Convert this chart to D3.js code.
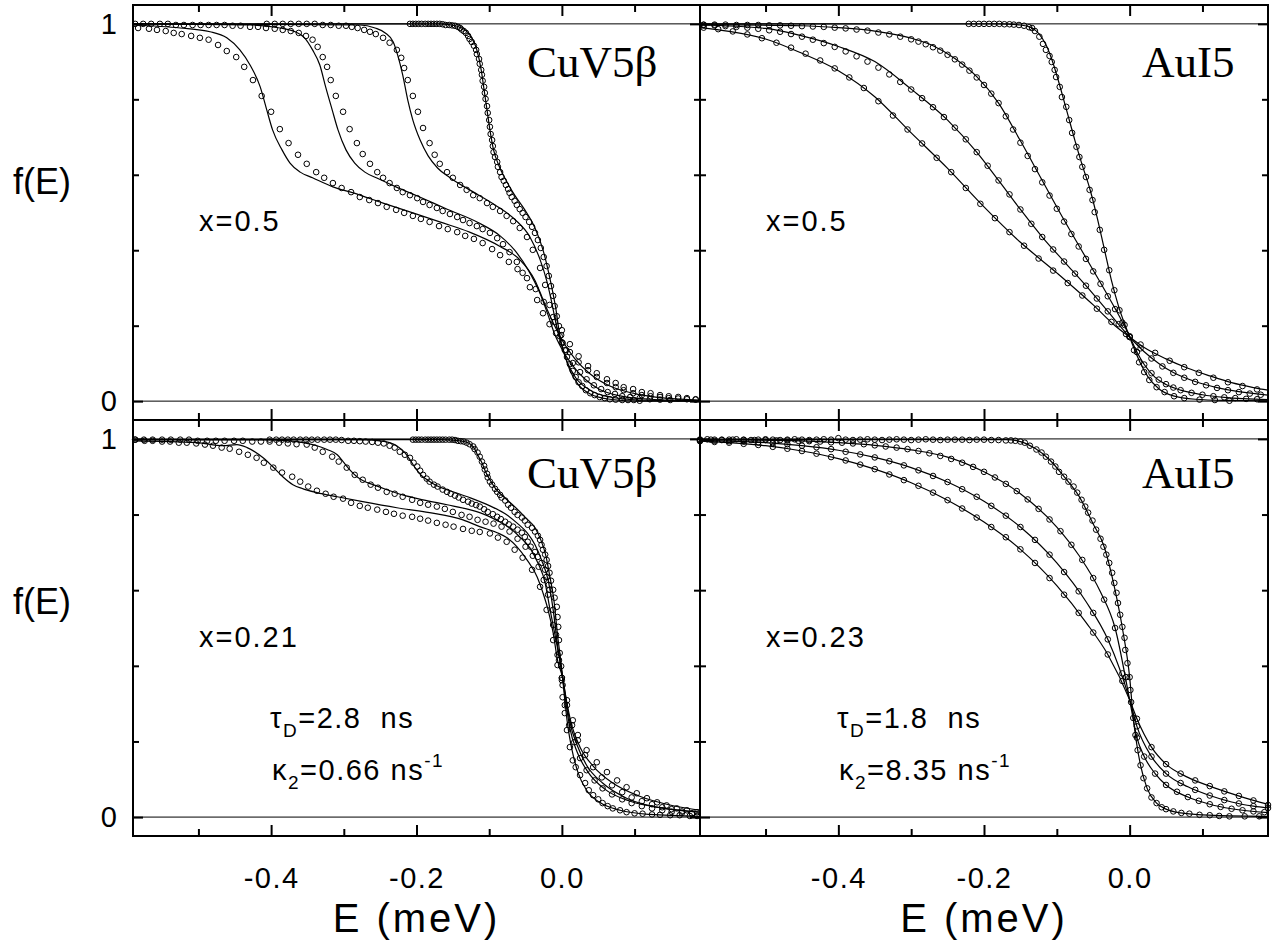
<!DOCTYPE html>
<html><head><meta charset="utf-8">
<script src="https://cdn.jsdelivr.net/npm/d3@7"></script>
<style>body{margin:0;background:#fff}svg{display:block}</style>
</head><body>
<svg id="c" width="1282" height="948"></svg>
<script>
// ---------------- axes / labels ----------------
const xDomain = [-0.59, 0.19];
const yDomain = [-0.05, 1.05];
const xMajor = [-0.4, -0.2, 0.0];
const xMinor = [-0.5, -0.3, -0.1, 0.1];
const xTickLabels = ["-0.4", "-0.2", "0.0"];
const yMajor = [0, 1];
const yMinor = [0.2, 0.4, 0.6, 0.8];
const yTickLabels = ["0", "1"];
const panelNames = ["CuV5\u03b2", "AuI5", "CuV5\u03b2", "AuI5"];
const panelX = ["x=0.5", "x=0.5", "x=0.21", "x=0.23"];
const tauD = ["2.8", "1.8"];
const kappa2 = ["0.66", "8.35"];
const xTitle = "E (meV)";
const yTitle = "f(E)";

// ---------------- top-left: CuV5b x=0.5 ----------------
const tlPtsA = [[-0.583,0.989],[-0.568,0.987],[-0.557,0.984],[-0.545,0.981],[-0.534,0.976],[-0.523,0.973],[-0.510,0.968],[-0.498,0.963],[-0.486,0.958],[-0.473,0.944],[-0.461,0.928],[-0.448,0.912],[-0.437,0.886],[-0.425,0.851],[-0.413,0.809],[-0.400,0.767],[-0.388,0.721],[-0.376,0.684],[-0.363,0.653],[-0.351,0.629],[-0.338,0.607],[-0.327,0.592],[-0.315,0.578],[-0.303,0.565],[-0.290,0.554],[-0.278,0.541],[-0.265,0.533],[-0.253,0.525],[-0.241,0.515],[-0.228,0.507],[-0.217,0.499],[-0.205,0.491],[-0.194,0.483],[-0.182,0.475],[-0.169,0.464],[-0.157,0.456],[-0.144,0.448],[-0.133,0.438],[-0.121,0.430],[-0.109,0.419],[-0.096,0.403],[-0.085,0.387],[-0.073,0.369],[-0.061,0.350],[-0.048,0.326],[-0.036,0.297],[-0.025,0.263],[-0.012,0.223],[0.000,0.188],[0.011,0.151],[0.023,0.119],[0.036,0.093],[0.048,0.074],[0.062,0.058],[0.074,0.048],[0.085,0.037],[0.098,0.032],[0.110,0.024],[0.122,0.021],[0.135,0.016],[0.147,0.013],[0.160,0.011],[0.172,0.008],[0.184,0.005]];
const tlPtsB = [[-0.587,1.000],[-0.576,1.000],[-0.565,1.000],[-0.553,1.000],[-0.542,1.000],[-0.531,0.997],[-0.520,0.997],[-0.508,0.997],[-0.497,0.997],[-0.486,0.997],[-0.475,0.997],[-0.464,0.997],[-0.453,0.995],[-0.442,0.995],[-0.429,0.992],[-0.418,0.992],[-0.407,0.989],[-0.395,0.987],[-0.384,0.984],[-0.373,0.981],[-0.362,0.976],[-0.352,0.968],[-0.343,0.958],[-0.336,0.939],[-0.329,0.912],[-0.323,0.886],[-0.318,0.851],[-0.311,0.809],[-0.301,0.767],[-0.292,0.721],[-0.282,0.684],[-0.274,0.655],[-0.264,0.629],[-0.254,0.607],[-0.246,0.592],[-0.237,0.578],[-0.227,0.565],[-0.219,0.554],[-0.209,0.546],[-0.199,0.538],[-0.191,0.528],[-0.182,0.520],[-0.172,0.512],[-0.164,0.504],[-0.154,0.496],[-0.144,0.488],[-0.136,0.480],[-0.127,0.472],[-0.117,0.464],[-0.109,0.456],[-0.099,0.446],[-0.089,0.432],[-0.081,0.416],[-0.072,0.395],[-0.062,0.369],[-0.054,0.340],[-0.044,0.302],[-0.034,0.268],[-0.026,0.233],[-0.017,0.204],[-0.008,0.180],[0.000,0.156],[0.011,0.130],[0.023,0.103],[0.036,0.082],[0.048,0.064],[0.062,0.048],[0.074,0.037],[0.085,0.029],[0.098,0.021],[0.110,0.016],[0.122,0.013],[0.135,0.011],[0.147,0.008],[0.160,0.007],[0.172,0.005],[0.184,0.004]];
const tlPtsC = [[-0.406,1.000],[-0.395,1.000],[-0.384,1.000],[-0.373,1.000],[-0.362,1.000],[-0.351,1.000],[-0.340,1.000],[-0.329,0.997],[-0.318,0.997],[-0.307,0.995],[-0.297,0.995],[-0.289,0.992],[-0.281,0.989],[-0.272,0.984],[-0.264,0.979],[-0.256,0.973],[-0.246,0.963],[-0.237,0.950],[-0.227,0.931],[-0.221,0.910],[-0.217,0.883],[-0.212,0.851],[-0.205,0.809],[-0.198,0.767],[-0.191,0.724],[-0.182,0.684],[-0.175,0.653],[-0.168,0.629],[-0.158,0.607],[-0.150,0.592],[-0.140,0.573],[-0.131,0.560],[-0.122,0.546],[-0.113,0.538],[-0.103,0.525],[-0.095,0.515],[-0.085,0.504],[-0.076,0.491],[-0.067,0.477],[-0.058,0.459],[-0.048,0.435],[-0.040,0.401],[-0.030,0.353],[-0.023,0.308],[-0.017,0.255],[-0.010,0.210],[-0.003,0.172],[0.006,0.135],[0.015,0.101],[0.025,0.077],[0.034,0.058],[0.044,0.042],[0.054,0.032],[0.063,0.024],[0.073,0.019],[0.083,0.013],[0.094,0.011],[0.107,0.008],[0.121,0.005],[0.135,0.004],[0.149,0.003]];
const tlPtsD = [[-0.209,1.000],[-0.205,1.000],[-0.201,1.000],[-0.197,1.000],[-0.193,1.000],[-0.188,1.000],[-0.184,1.000],[-0.180,1.000],[-0.176,1.000],[-0.172,1.000],[-0.168,1.000],[-0.164,0.999],[-0.160,0.997],[-0.155,0.997],[-0.151,0.996],[-0.147,0.995],[-0.143,0.992],[-0.140,0.989],[-0.138,0.985],[-0.135,0.981],[-0.132,0.976],[-0.129,0.968],[-0.127,0.960],[-0.124,0.952],[-0.121,0.942],[-0.118,0.931],[-0.117,0.920],[-0.114,0.907],[-0.113,0.894],[-0.111,0.878],[-0.110,0.865],[-0.109,0.849],[-0.107,0.833],[-0.106,0.817],[-0.105,0.801],[-0.103,0.782],[-0.102,0.764],[-0.100,0.745],[-0.099,0.727],[-0.098,0.708],[-0.096,0.692],[-0.095,0.676],[-0.094,0.660],[-0.092,0.647],[-0.089,0.634],[-0.088,0.621],[-0.085,0.607],[-0.083,0.594],[-0.080,0.584],[-0.077,0.573],[-0.074,0.562],[-0.072,0.552],[-0.069,0.541],[-0.065,0.531],[-0.062,0.520],[-0.058,0.509],[-0.054,0.499],[-0.050,0.488],[-0.045,0.475],[-0.041,0.462],[-0.037,0.446],[-0.033,0.427],[-0.029,0.406],[-0.025,0.382],[-0.021,0.358],[-0.018,0.332],[-0.015,0.305],[-0.012,0.279],[-0.010,0.252],[-0.007,0.225],[-0.004,0.199],[-0.001,0.175],[0.001,0.154],[0.004,0.135],[0.007,0.117],[0.011,0.098],[0.015,0.080],[0.019,0.064],[0.023,0.050],[0.028,0.040],[0.033,0.029],[0.039,0.021],[0.045,0.016],[0.052,0.011],[0.059,0.008],[0.066,0.005],[0.074,0.004],[0.083,0.003],[0.091,0.003],[0.099,0.003],[0.107,0.001]];
const tlFitA = [[-0.590,0.997],[-0.525,0.989],[-0.484,0.979],[-0.461,0.963],[-0.443,0.931],[-0.429,0.891],[-0.415,0.833],[-0.406,0.772],[-0.398,0.719],[-0.385,0.666],[-0.374,0.631],[-0.360,0.607],[-0.343,0.592],[-0.315,0.568],[-0.287,0.552],[-0.246,0.525],[-0.205,0.499],[-0.168,0.475],[-0.127,0.448],[-0.085,0.410],[-0.058,0.375],[-0.037,0.320],[-0.023,0.255],[-0.010,0.200],[0.004,0.150],[0.018,0.112],[0.039,0.072],[0.066,0.040],[0.100,0.020],[0.142,0.008],[0.190,0.003]];
const tlFitB = [[-0.590,1.000],[-0.429,0.997],[-0.388,0.989],[-0.367,0.979],[-0.354,0.963],[-0.343,0.931],[-0.333,0.891],[-0.325,0.833],[-0.316,0.772],[-0.308,0.719],[-0.297,0.666],[-0.285,0.631],[-0.271,0.607],[-0.253,0.590],[-0.226,0.566],[-0.198,0.543],[-0.157,0.508],[-0.116,0.474],[-0.085,0.438],[-0.065,0.400],[-0.047,0.350],[-0.030,0.285],[-0.019,0.228],[-0.010,0.178],[0.000,0.138],[0.014,0.096],[0.032,0.058],[0.052,0.031],[0.080,0.014],[0.121,0.005],[0.190,0.001]];
const tlFitC = [[-0.590,1.000],[-0.278,0.997],[-0.257,0.989],[-0.243,0.976],[-0.232,0.952],[-0.226,0.918],[-0.219,0.865],[-0.212,0.798],[-0.205,0.745],[-0.195,0.692],[-0.184,0.650],[-0.171,0.618],[-0.154,0.592],[-0.127,0.560],[-0.092,0.520],[-0.065,0.482],[-0.044,0.435],[-0.030,0.375],[-0.021,0.320],[-0.014,0.262],[-0.008,0.205],[-0.001,0.152],[0.007,0.105],[0.019,0.062],[0.039,0.029],[0.066,0.011],[0.107,0.003],[0.190,0.000]];
const tlFitD = [[-0.590,1.000],[-0.168,1.000],[-0.147,0.995],[-0.133,0.984],[-0.124,0.963],[-0.117,0.931],[-0.111,0.878],[-0.107,0.825],[-0.103,0.772],[-0.099,0.719],[-0.094,0.666],[-0.087,0.626],[-0.077,0.586],[-0.065,0.546],[-0.051,0.507],[-0.037,0.459],[-0.026,0.401],[-0.016,0.321],[-0.008,0.241],[-0.003,0.175],[0.004,0.122],[0.011,0.082],[0.022,0.045],[0.039,0.019],[0.066,0.005],[0.107,0.000],[0.190,0.000]];

// ---------------- top-right: AuI5 x=0.5 ----------------
const trPts1 = [[-0.585,0.990],[-0.565,0.986],[-0.545,0.980],[-0.525,0.972],[-0.505,0.962],[-0.485,0.950],[-0.465,0.937],[-0.445,0.921],[-0.425,0.903],[-0.405,0.882],[-0.385,0.858],[-0.365,0.830],[-0.345,0.795],[-0.325,0.757],[-0.305,0.720],[-0.285,0.683],[-0.265,0.645],[-0.245,0.607],[-0.225,0.565],[-0.205,0.523],[-0.185,0.485],[-0.165,0.448],[-0.145,0.412],[-0.125,0.378],[-0.105,0.346],[-0.085,0.313],[-0.065,0.280],[-0.045,0.245],[-0.025,0.210],[-0.005,0.178],[0.015,0.150],[0.035,0.128],[0.055,0.107],[0.075,0.090],[0.095,0.075],[0.115,0.062],[0.135,0.050],[0.155,0.040],[0.175,0.031]];
const trPts2 = [[-0.585,0.997],[-0.570,0.996],[-0.555,0.994],[-0.540,0.992],[-0.525,0.990],[-0.510,0.987],[-0.495,0.983],[-0.480,0.979],[-0.465,0.973],[-0.450,0.966],[-0.435,0.958],[-0.420,0.949],[-0.405,0.939],[-0.390,0.927],[-0.375,0.914],[-0.360,0.900],[-0.345,0.884],[-0.330,0.866],[-0.315,0.846],[-0.300,0.826],[-0.285,0.803],[-0.270,0.779],[-0.255,0.753],[-0.240,0.725],[-0.225,0.694],[-0.210,0.660],[-0.195,0.624],[-0.180,0.585],[-0.165,0.548],[-0.150,0.508],[-0.135,0.470],[-0.120,0.435],[-0.105,0.402],[-0.090,0.370],[-0.075,0.338],[-0.060,0.306],[-0.045,0.272],[-0.030,0.238],[-0.015,0.204],[0.000,0.170],[0.015,0.140],[0.030,0.113],[0.045,0.092],[0.060,0.075],[0.075,0.062],[0.090,0.051],[0.105,0.042],[0.120,0.035],[0.135,0.029],[0.150,0.024],[0.165,0.020],[0.180,0.017]];
const trPts3 = [[-0.585,0.998],[-0.570,0.998],[-0.555,0.998],[-0.540,0.997],[-0.525,0.997],[-0.510,0.997],[-0.495,0.996],[-0.480,0.996],[-0.465,0.995],[-0.450,0.994],[-0.435,0.993],[-0.420,0.992],[-0.405,0.990],[-0.390,0.988],[-0.375,0.985],[-0.360,0.982],[-0.345,0.977],[-0.330,0.972],[-0.315,0.966],[-0.300,0.959],[-0.290,0.953],[-0.280,0.946],[-0.270,0.938],[-0.260,0.929],[-0.250,0.918],[-0.240,0.906],[-0.230,0.892],[-0.220,0.876],[-0.210,0.858],[-0.200,0.838],[-0.190,0.815],[-0.180,0.790],[-0.170,0.755],[-0.160,0.720],[-0.150,0.685],[-0.140,0.650],[-0.130,0.615],[-0.120,0.580],[-0.110,0.545],[-0.100,0.510],[-0.090,0.476],[-0.080,0.443],[-0.070,0.410],[-0.060,0.377],[-0.050,0.344],[-0.040,0.311],[-0.030,0.278],[-0.020,0.244],[-0.010,0.208],[0.000,0.172],[0.010,0.130],[0.020,0.097],[0.030,0.074],[0.040,0.057],[0.050,0.045],[0.060,0.036],[0.070,0.029],[0.085,0.022],[0.100,0.017],[0.115,0.013],[0.130,0.010],[0.145,0.008],[0.160,0.006],[0.175,0.005]];
const trPts4 = [[-0.221,1.000],[-0.214,1.000],[-0.207,1.000],[-0.200,1.000],[-0.193,1.000],[-0.186,1.000],[-0.179,1.000],[-0.172,0.999],[-0.165,0.999],[-0.159,0.998],[-0.152,0.997],[-0.145,0.995],[-0.138,0.991],[-0.134,0.989],[-0.130,0.981],[-0.124,0.966],[-0.119,0.947],[-0.115,0.931],[-0.110,0.915],[-0.107,0.899],[-0.103,0.878],[-0.101,0.859],[-0.096,0.833],[-0.093,0.806],[-0.087,0.780],[-0.083,0.745],[-0.079,0.711],[-0.073,0.674],[-0.069,0.647],[-0.065,0.621],[-0.060,0.594],[-0.055,0.560],[-0.051,0.533],[-0.048,0.501],[-0.041,0.454],[-0.035,0.401],[-0.028,0.347],[-0.021,0.294],[-0.014,0.241],[-0.007,0.202],[0.000,0.170],[0.006,0.135],[0.013,0.103],[0.020,0.077],[0.027,0.056],[0.037,0.037],[0.048,0.024],[0.061,0.013],[0.075,0.008],[0.096,0.004],[0.117,0.003],[0.137,0.001]];
const trFit1 = [[-0.590,0.990],[-0.550,0.980],[-0.500,0.960],[-0.450,0.922],[-0.400,0.876],[-0.350,0.807],[-0.300,0.711],[-0.250,0.617],[-0.200,0.515],[-0.150,0.421],[-0.100,0.340],[-0.050,0.255],[-0.020,0.200],[0.000,0.170],[0.020,0.142],[0.050,0.112],[0.080,0.087],[0.110,0.067],[0.140,0.049],[0.170,0.036],[0.190,0.029]];
const trFit2 = [[-0.590,0.997],[-0.500,0.988],[-0.450,0.968],[-0.400,0.940],[-0.350,0.900],[-0.300,0.827],[-0.250,0.745],[-0.210,0.660],[-0.180,0.585],[-0.150,0.508],[-0.120,0.435],[-0.090,0.370],[-0.060,0.306],[-0.030,0.238],[0.000,0.170],[0.020,0.131],[0.040,0.100],[0.060,0.076],[0.090,0.052],[0.120,0.036],[0.150,0.025],[0.190,0.016]];
const trFit3 = [[-0.590,0.998],[-0.450,0.995],[-0.400,0.990],[-0.350,0.981],[-0.300,0.962],[-0.270,0.942],[-0.240,0.908],[-0.210,0.860],[-0.180,0.790],[-0.150,0.690],[-0.120,0.585],[-0.090,0.480],[-0.060,0.380],[-0.030,0.280],[-0.010,0.210],[0.000,0.172],[0.010,0.130],[0.020,0.097],[0.035,0.063],[0.050,0.044],[0.070,0.029],[0.100,0.017],[0.130,0.010],[0.190,0.004]];
const trFit4 = [[-0.590,1.000],[-0.180,1.000],[-0.150,0.997],[-0.135,0.990],[-0.125,0.975],[-0.115,0.945],[-0.105,0.895],[-0.095,0.830],[-0.085,0.760],[-0.075,0.690],[-0.065,0.625],[-0.055,0.565],[-0.045,0.490],[-0.035,0.405],[-0.025,0.320],[-0.015,0.250],[-0.005,0.195],[0.005,0.145],[0.015,0.100],[0.025,0.065],[0.040,0.033],[0.060,0.014],[0.090,0.005],[0.130,0.002],[0.190,0.001]];

// ---------------- bottom-left: CuV5b x=0.21 ----------------
const blPtsA = [[-0.587,0.998],[-0.574,0.995],[-0.563,0.995],[-0.550,0.993],[-0.539,0.993],[-0.527,0.990],[-0.516,0.990],[-0.503,0.988],[-0.491,0.985],[-0.480,0.982],[-0.468,0.977],[-0.457,0.974],[-0.444,0.966],[-0.432,0.958],[-0.420,0.950],[-0.410,0.937],[-0.397,0.924],[-0.385,0.911],[-0.371,0.900],[-0.360,0.887],[-0.349,0.874],[-0.337,0.863],[-0.325,0.855],[-0.314,0.847],[-0.301,0.842],[-0.290,0.831],[-0.278,0.823],[-0.267,0.818],[-0.254,0.813],[-0.242,0.807],[-0.231,0.802],[-0.219,0.797],[-0.206,0.794],[-0.195,0.789],[-0.184,0.784],[-0.172,0.778],[-0.160,0.773],[-0.149,0.768],[-0.136,0.762],[-0.124,0.757],[-0.113,0.754],[-0.099,0.750],[-0.088,0.739],[-0.076,0.728],[-0.065,0.707],[-0.054,0.686],[-0.041,0.654],[-0.030,0.609],[-0.021,0.548],[-0.012,0.468],[-0.006,0.402],[0.001,0.349],[0.007,0.309],[0.015,0.256],[0.022,0.217],[0.034,0.177],[0.048,0.145],[0.062,0.119],[0.076,0.097],[0.089,0.079],[0.103,0.063],[0.117,0.050],[0.131,0.039],[0.144,0.031],[0.158,0.023],[0.172,0.018],[0.186,0.013]];
const blPtsB = [[-0.587,0.998],[-0.575,0.998],[-0.563,0.998],[-0.550,0.998],[-0.538,0.998],[-0.525,0.998],[-0.513,0.998],[-0.501,0.995],[-0.488,0.995],[-0.476,0.995],[-0.464,0.995],[-0.451,0.995],[-0.439,0.995],[-0.426,0.993],[-0.414,0.993],[-0.402,0.993],[-0.389,0.990],[-0.377,0.988],[-0.365,0.986],[-0.351,0.985],[-0.340,0.977],[-0.329,0.966],[-0.316,0.953],[-0.307,0.940],[-0.296,0.924],[-0.285,0.905],[-0.274,0.892],[-0.263,0.879],[-0.253,0.871],[-0.241,0.860],[-0.230,0.855],[-0.219,0.847],[-0.206,0.839],[-0.195,0.831],[-0.184,0.826],[-0.172,0.821],[-0.161,0.815],[-0.150,0.807],[-0.138,0.799],[-0.127,0.794],[-0.116,0.786],[-0.105,0.781],[-0.094,0.776],[-0.083,0.768],[-0.072,0.755],[-0.061,0.736],[-0.050,0.715],[-0.040,0.691],[-0.032,0.662],[-0.025,0.627],[-0.019,0.588],[-0.012,0.508],[-0.006,0.429],[0.000,0.368],[0.007,0.296],[0.014,0.243],[0.022,0.203],[0.032,0.164],[0.043,0.132],[0.055,0.105],[0.069,0.084],[0.083,0.066],[0.096,0.052],[0.110,0.042],[0.124,0.034],[0.138,0.026],[0.151,0.021],[0.165,0.015],[0.179,0.010]];
const blPtsC = [[-0.402,0.998],[-0.393,0.998],[-0.385,0.998],[-0.377,0.998],[-0.369,0.998],[-0.360,0.998],[-0.352,0.998],[-0.344,0.998],[-0.336,0.998],[-0.327,0.998],[-0.319,0.998],[-0.311,0.998],[-0.303,0.997],[-0.294,0.995],[-0.286,0.995],[-0.278,0.994],[-0.270,0.993],[-0.261,0.992],[-0.253,0.990],[-0.245,0.988],[-0.237,0.982],[-0.230,0.977],[-0.223,0.966],[-0.216,0.958],[-0.209,0.950],[-0.204,0.937],[-0.199,0.927],[-0.195,0.916],[-0.191,0.905],[-0.186,0.895],[-0.182,0.887],[-0.176,0.879],[-0.171,0.874],[-0.164,0.866],[-0.158,0.860],[-0.153,0.855],[-0.147,0.850],[-0.142,0.845],[-0.136,0.839],[-0.129,0.834],[-0.124,0.829],[-0.118,0.825],[-0.113,0.821],[-0.107,0.814],[-0.102,0.807],[-0.095,0.801],[-0.089,0.794],[-0.084,0.788],[-0.078,0.781],[-0.073,0.774],[-0.067,0.768],[-0.061,0.760],[-0.055,0.752],[-0.051,0.741],[-0.047,0.728],[-0.043,0.715],[-0.037,0.701],[-0.033,0.688],[-0.028,0.672],[-0.023,0.654],[-0.021,0.635],[-0.018,0.614],[-0.017,0.601],[-0.012,0.548],[-0.008,0.482],[-0.004,0.415],[0.000,0.362],[0.004,0.296],[0.010,0.243],[0.017,0.198],[0.025,0.156],[0.034,0.124],[0.045,0.097],[0.056,0.076],[0.069,0.060],[0.083,0.047],[0.096,0.037],[0.110,0.029],[0.124,0.023],[0.138,0.018],[0.151,0.014],[0.165,0.011],[0.179,0.009]];
const blPtsD = [[-0.205,0.998],[-0.201,0.998],[-0.197,0.998],[-0.193,0.998],[-0.188,0.998],[-0.184,0.998],[-0.180,0.998],[-0.176,0.998],[-0.172,0.998],[-0.168,0.998],[-0.164,0.998],[-0.160,0.998],[-0.155,0.998],[-0.151,0.998],[-0.147,0.997],[-0.143,0.995],[-0.139,0.994],[-0.135,0.993],[-0.131,0.990],[-0.127,0.986],[-0.122,0.980],[-0.120,0.973],[-0.116,0.964],[-0.113,0.953],[-0.110,0.940],[-0.107,0.929],[-0.106,0.919],[-0.103,0.908],[-0.102,0.898],[-0.099,0.887],[-0.096,0.879],[-0.092,0.868],[-0.089,0.860],[-0.085,0.852],[-0.083,0.845],[-0.078,0.837],[-0.074,0.826],[-0.070,0.818],[-0.065,0.807],[-0.061,0.799],[-0.055,0.792],[-0.051,0.784],[-0.047,0.773],[-0.041,0.765],[-0.037,0.755],[-0.033,0.744],[-0.030,0.733],[-0.028,0.720],[-0.026,0.707],[-0.023,0.694],[-0.021,0.680],[-0.019,0.664],[-0.017,0.646],[-0.015,0.625],[-0.012,0.601],[-0.010,0.580],[-0.007,0.556],[-0.006,0.529],[-0.005,0.503],[-0.004,0.468],[-0.003,0.434],[-0.001,0.399],[0.000,0.368],[0.001,0.317],[0.004,0.275],[0.007,0.230],[0.011,0.185],[0.015,0.150],[0.019,0.132],[0.025,0.111],[0.032,0.090],[0.037,0.071],[0.043,0.058],[0.050,0.047],[0.056,0.037],[0.063,0.029],[0.070,0.023],[0.080,0.018],[0.089,0.013],[0.100,0.010],[0.111,0.009],[0.124,0.007],[0.135,0.006],[0.149,0.005],[0.162,0.005],[0.176,0.003],[0.186,0.003]];
const blFitA = [[-0.590,0.995],[-0.502,0.990],[-0.466,0.982],[-0.447,0.985],[-0.433,0.977],[-0.411,0.950],[-0.398,0.927],[-0.384,0.900],[-0.370,0.879],[-0.356,0.868],[-0.337,0.858],[-0.309,0.847],[-0.274,0.834],[-0.227,0.818],[-0.182,0.805],[-0.136,0.786],[-0.113,0.768],[-0.089,0.752],[-0.076,0.739],[-0.062,0.715],[-0.048,0.680],[-0.034,0.635],[-0.026,0.593],[-0.019,0.548],[-0.012,0.487],[-0.006,0.415],[0.001,0.368],[0.007,0.301],[0.014,0.240],[0.025,0.185],[0.043,0.135],[0.070,0.090],[0.107,0.055],[0.153,0.030],[0.190,0.018]];
const blFitB = [[-0.590,0.998],[-0.429,0.998],[-0.374,0.995],[-0.356,0.990],[-0.337,0.982],[-0.323,0.972],[-0.309,0.958],[-0.301,0.940],[-0.292,0.919],[-0.282,0.900],[-0.274,0.890],[-0.260,0.879],[-0.241,0.866],[-0.219,0.852],[-0.191,0.839],[-0.158,0.826],[-0.127,0.813],[-0.113,0.805],[-0.089,0.784],[-0.072,0.765],[-0.058,0.741],[-0.044,0.712],[-0.033,0.672],[-0.023,0.619],[-0.017,0.556],[-0.010,0.487],[-0.003,0.415],[0.001,0.368],[0.006,0.309],[0.011,0.251],[0.021,0.190],[0.034,0.137],[0.056,0.090],[0.089,0.050],[0.131,0.026],[0.190,0.013]];
const blFitC = [[-0.590,0.998],[-0.278,0.998],[-0.250,0.995],[-0.237,0.990],[-0.226,0.980],[-0.216,0.964],[-0.209,0.945],[-0.202,0.924],[-0.194,0.905],[-0.184,0.890],[-0.172,0.876],[-0.154,0.863],[-0.127,0.845],[-0.099,0.823],[-0.078,0.802],[-0.062,0.778],[-0.048,0.752],[-0.037,0.720],[-0.028,0.680],[-0.019,0.627],[-0.012,0.548],[-0.006,0.455],[0.001,0.368],[0.006,0.296],[0.011,0.235],[0.021,0.172],[0.036,0.119],[0.059,0.074],[0.094,0.042],[0.142,0.023],[0.190,0.013]];
const blFitD = [[-0.590,0.998],[-0.168,0.998],[-0.140,0.995],[-0.129,0.990],[-0.121,0.977],[-0.116,0.958],[-0.110,0.937],[-0.105,0.913],[-0.099,0.892],[-0.091,0.868],[-0.080,0.847],[-0.065,0.821],[-0.050,0.792],[-0.037,0.765],[-0.029,0.733],[-0.022,0.691],[-0.017,0.641],[-0.011,0.574],[-0.006,0.482],[0.000,0.389],[0.004,0.309],[0.008,0.243],[0.014,0.177],[0.022,0.119],[0.034,0.071],[0.052,0.039],[0.080,0.018],[0.121,0.007],[0.190,0.002]];

// ---------------- bottom-right: AuI5 x=0.23 ----------------
const brPts1 = [[-0.590,0.994],[-0.570,0.992],[-0.550,0.990],[-0.530,0.987],[-0.510,0.984],[-0.490,0.979],[-0.470,0.974],[-0.450,0.968],[-0.430,0.961],[-0.410,0.952],[-0.390,0.943],[-0.370,0.932],[-0.350,0.920],[-0.330,0.906],[-0.310,0.891],[-0.290,0.876],[-0.270,0.858],[-0.250,0.838],[-0.230,0.816],[-0.210,0.792],[-0.190,0.767],[-0.170,0.740],[-0.150,0.708],[-0.130,0.672],[-0.110,0.632],[-0.090,0.588],[-0.070,0.540],[-0.050,0.488],[-0.030,0.430],[-0.010,0.360],[0.010,0.260],[0.030,0.185],[0.050,0.140],[0.070,0.115],[0.090,0.097],[0.110,0.082],[0.130,0.068],[0.150,0.056],[0.170,0.044],[0.190,0.032]];
const brPts2 = [[-0.590,0.996],[-0.570,0.995],[-0.550,0.994],[-0.530,0.993],[-0.510,0.991],[-0.490,0.989],[-0.470,0.986],[-0.450,0.982],[-0.430,0.978],[-0.410,0.973],[-0.390,0.966],[-0.370,0.959],[-0.350,0.951],[-0.330,0.941],[-0.310,0.930],[-0.290,0.917],[-0.270,0.902],[-0.250,0.886],[-0.230,0.867],[-0.210,0.847],[-0.190,0.823],[-0.170,0.797],[-0.150,0.767],[-0.130,0.733],[-0.110,0.694],[-0.090,0.648],[-0.070,0.597],[-0.050,0.540],[-0.030,0.470],[-0.010,0.380],[0.010,0.240],[0.030,0.160],[0.050,0.115],[0.070,0.090],[0.090,0.072],[0.110,0.057],[0.130,0.045],[0.150,0.036],[0.170,0.029],[0.190,0.024]];
const brPts3 = [[-0.590,0.998],[-0.575,0.998],[-0.560,0.998],[-0.545,0.998],[-0.530,0.997],[-0.515,0.997],[-0.500,0.997],[-0.485,0.996],[-0.470,0.996],[-0.455,0.995],[-0.440,0.994],[-0.425,0.993],[-0.410,0.991],[-0.395,0.990],[-0.380,0.988],[-0.365,0.986],[-0.350,0.983],[-0.335,0.980],[-0.320,0.977],[-0.305,0.973],[-0.290,0.968],[-0.275,0.962],[-0.260,0.955],[-0.245,0.947],[-0.230,0.937],[-0.215,0.926],[-0.200,0.913],[-0.185,0.898],[-0.170,0.881],[-0.155,0.862],[-0.140,0.840],[-0.125,0.815],[-0.110,0.787],[-0.095,0.756],[-0.080,0.720],[-0.065,0.680],[-0.050,0.632],[-0.035,0.575],[-0.020,0.500],[-0.005,0.370],[0.010,0.210],[0.020,0.160],[0.035,0.115],[0.050,0.085],[0.065,0.067],[0.080,0.053],[0.095,0.043],[0.110,0.034],[0.125,0.027],[0.140,0.022],[0.155,0.018],[0.170,0.015],[0.185,0.013]];
const brPts4 = [[-0.590,0.998],[-0.580,0.999],[-0.570,0.998],[-0.560,0.997],[-0.550,0.998],[-0.540,0.999],[-0.530,0.998],[-0.520,0.997],[-0.510,0.998],[-0.500,0.999],[-0.490,0.998],[-0.480,0.997],[-0.470,0.998],[-0.460,0.999],[-0.450,0.998],[-0.440,0.997],[-0.430,0.998],[-0.420,0.999],[-0.410,0.998],[-0.400,1.002],[-0.390,0.998],[-0.380,0.997],[-0.370,0.998],[-0.360,0.999],[-0.350,0.998],[-0.340,0.997],[-0.330,0.998],[-0.320,0.999],[-0.310,0.998],[-0.300,0.997],[-0.290,0.998],[-0.280,0.999],[-0.270,0.998],[-0.260,0.997],[-0.250,0.998],[-0.240,0.998],[-0.230,0.998],[-0.220,0.997],[-0.210,0.998],[-0.200,0.998],[-0.190,0.997],[-0.180,0.997],[-0.170,0.996],[-0.163,0.996],[-0.157,0.995],[-0.150,0.993],[-0.144,0.990],[-0.137,0.982],[-0.128,0.972],[-0.121,0.964],[-0.115,0.953],[-0.108,0.940],[-0.102,0.927],[-0.097,0.913],[-0.090,0.900],[-0.084,0.887],[-0.077,0.874],[-0.072,0.858],[-0.066,0.839],[-0.061,0.821],[-0.057,0.805],[-0.051,0.784],[-0.046,0.760],[-0.040,0.736],[-0.036,0.715],[-0.032,0.694],[-0.028,0.672],[-0.024,0.646],[-0.021,0.619],[-0.018,0.593],[-0.016,0.566],[-0.013,0.535],[-0.010,0.503],[-0.007,0.474],[-0.006,0.442],[-0.003,0.407],[0.000,0.370],[0.001,0.336],[0.002,0.304],[0.005,0.262],[0.008,0.217],[0.011,0.177],[0.015,0.137],[0.019,0.103],[0.024,0.076],[0.030,0.052],[0.037,0.037],[0.044,0.026],[0.050,0.021],[0.060,0.015],[0.071,0.011],[0.082,0.009],[0.096,0.006],[0.110,0.005],[0.123,0.003],[0.137,0.002],[0.158,0.002],[0.178,0.002]];
const brFit1 = [[-0.590,0.994],[-0.550,0.990],[-0.500,0.982],[-0.450,0.968],[-0.400,0.948],[-0.350,0.920],[-0.300,0.884],[-0.250,0.838],[-0.200,0.780],[-0.150,0.708],[-0.100,0.612],[-0.060,0.515],[-0.030,0.430],[0.000,0.310],[0.010,0.260],[0.030,0.185],[0.050,0.140],[0.080,0.105],[0.110,0.082],[0.140,0.062],[0.170,0.044],[0.190,0.034]];
const brFit2 = [[-0.590,0.996],[-0.500,0.990],[-0.450,0.982],[-0.400,0.970],[-0.350,0.951],[-0.300,0.924],[-0.250,0.886],[-0.200,0.835],[-0.150,0.767],[-0.100,0.672],[-0.060,0.570],[-0.030,0.470],[0.000,0.310],[0.010,0.240],[0.030,0.160],[0.050,0.115],[0.080,0.080],[0.110,0.057],[0.140,0.040],[0.170,0.029],[0.190,0.024]];
const brFit3 = [[-0.590,0.998],[-0.450,0.995],[-0.400,0.990],[-0.350,0.983],[-0.300,0.971],[-0.250,0.952],[-0.200,0.913],[-0.150,0.855],[-0.100,0.767],[-0.070,0.693],[-0.040,0.595],[-0.020,0.500],[0.000,0.310],[0.010,0.210],[0.020,0.160],[0.035,0.115],[0.050,0.085],[0.080,0.053],[0.110,0.034],[0.140,0.022],[0.190,0.012]];
const brFit4 = [[-0.590,0.998],[-0.170,0.998],[-0.150,0.993],[-0.130,0.975],[-0.110,0.945],[-0.090,0.900],[-0.070,0.850],[-0.050,0.775],[-0.035,0.715],[-0.020,0.600],[-0.010,0.500],[0.000,0.370],[0.005,0.262],[0.010,0.190],[0.015,0.137],[0.024,0.076],[0.037,0.037],[0.050,0.021],[0.070,0.011],[0.100,0.006],[0.190,0.002]];

const panelPts = [[tlPtsA,tlPtsB,tlPtsC,tlPtsD],[trPts1,trPts2,trPts3,trPts4],[blPtsA,blPtsB,blPtsC,blPtsD],[brPts1,brPts2,brPts3,brPts4]];
const panelFits = [[tlFitA,tlFitB,tlFitC,tlFitD],[trFit1,trFit2,trFit3,trFit4],[blFitA,blFitB,blFitC,blFitD],[brFit1,brFit2,brFit3,brFit4]];

// ---------------- drawing ----------------
const SANS = "'Liberation Sans', Arial, Helvetica, sans-serif";
const SERIF = "'Liberation Serif', 'Times New Roman', serif";
const svg = d3.select('#c');
const L = 133, M = 700, R = 1268, T = 5, H = 420, B = 836;
const boxes = [[L, M, T, H], [M, R, T, H], [L, M, H, B], [M, R, H, B]];

function styleAxis(a) {
  a.select('.domain').remove();
  a.selectAll('.tick line').attr('stroke', '#000').attr('stroke-width', 2);
  a.attr('font-family', SANS).attr('font-size', 29);
  a.selectAll('text').attr('fill', '#000');
  return a;
}

boxes.forEach((bx, i) => {
  const xs = d3.scaleLinear().domain(xDomain).range([bx[0], bx[1]]);
  const ys = d3.scaleLinear().domain(yDomain).range([bx[3], bx[2]]);
  const g = svg.append('g');
  const isLeft = (i % 2 === 0), isBottom = (i >= 2);

  // reference lines at f=0 and f=1
  g.selectAll('line.ref').data([0, 1]).join('line').attr('class', 'ref')
    .attr('x1', bx[0]).attr('x2', bx[1])
    .attr('y1', d => ys(d)).attr('y2', d => ys(d))
    .attr('stroke', '#000').attr('stroke-width', 1);

  const line = d3.line().x(d => xs(d[0])).y(d => ys(d[1])).curve(d3.curveMonotoneX);
  panelFits[i].forEach(f => {
    g.append('path').attr('d', line(f)).attr('fill', 'none')
      .attr('stroke', '#000').attr('stroke-width', 1.2);
  });
  panelPts[i].forEach(p => {
    g.append('g').selectAll('circle').data(p).join('circle')
      .attr('cx', d => xs(d[0])).attr('cy', d => ys(d[1])).attr('r', 2.8)
      .attr('fill', 'none').attr('stroke', '#000').attr('stroke-width', 1);
  });

  // frame
  g.append('rect').attr('x', bx[0]).attr('y', bx[2])
    .attr('width', bx[1] - bx[0]).attr('height', bx[3] - bx[2])
    .attr('fill', 'none').attr('stroke', '#000').attr('stroke-width', 2);

  // ticks
  const xa = styleAxis(g.append('g').attr('transform', `translate(0,${bx[3]})`)
    .call(d3.axisBottom(xs).tickValues(xMajor).tickSize(-11).tickPadding(31)
      .tickFormat((d, k) => isBottom ? xTickLabels[k] : '')));
  xa.selectAll('text').attr('letter-spacing', 1.5);
  styleAxis(g.append('g').attr('transform', `translate(0,${bx[3]})`)
    .call(d3.axisBottom(xs).tickValues(xMinor).tickSize(-7).tickFormat('')));
  styleAxis(g.append('g').attr('transform', `translate(0,${bx[2]})`)
    .call(d3.axisTop(xs).tickValues(xMajor).tickSize(-11).tickFormat('')));
  styleAxis(g.append('g').attr('transform', `translate(0,${bx[2]})`)
    .call(d3.axisTop(xs).tickValues(xMinor).tickSize(-7).tickFormat('')));
  styleAxis(g.append('g').attr('transform', `translate(${bx[0]},0)`)
    .call(d3.axisLeft(ys).tickValues(yMajor).tickSize(-10).tickPadding(16)
      .tickFormat((d, k) => isLeft ? yTickLabels[k] : '')));
  styleAxis(g.append('g').attr('transform', `translate(${bx[0]},0)`)
    .call(d3.axisLeft(ys).tickValues(yMinor).tickSize(-6).tickFormat('')));
  styleAxis(g.append('g').attr('transform', `translate(${bx[1]},0)`)
    .call(d3.axisRight(ys).tickValues(yMajor).tickSize(-10).tickFormat('')));
  styleAxis(g.append('g').attr('transform', `translate(${bx[1]},0)`)
    .call(d3.axisRight(ys).tickValues(yMinor).tickSize(-6).tickFormat('')));

  // panel labels
  g.append('text').attr('x', isLeft ? bx[0] + 394 : bx[0] + 442)
    .attr('y', isBottom ? bx[2] + 68 : bx[2] + 72)
    .attr('font-family', SERIF).attr('font-size', 45).attr('fill', '#000')
    .text(panelNames[i]);
  g.append('text').attr('x', bx[0] + 66).attr('y', isBottom ? bx[2] + 227 : bx[2] + 226)
    .attr('font-family', SANS).attr('font-size', 29).attr('letter-spacing', 2)
    .attr('fill', '#000').text(panelX[i]);

  if (isBottom) {
    const j = isLeft ? 0 : 1;
    const tx = bx[0] + 137;
    const t1 = g.append('text').attr('x', tx).attr('y', 728)
      .attr('font-family', SANS).attr('font-size', 29).attr('letter-spacing', 1.5).attr('fill', '#000');
    t1.append('tspan').text('\u03c4');
    t1.append('tspan').attr('font-size', 19).attr('dy', 9).text('D');
    t1.append('tspan').attr('dy', -9).text('=' + tauD[j] + '\u00a0\u00a0ns');
    const t2 = g.append('text').attr('x', tx + 2).attr('y', 780)
      .attr('font-family', SANS).attr('font-size', 29).attr('letter-spacing', 1.5).attr('fill', '#000');
    t2.append('tspan').text('\u03ba');
    t2.append('tspan').attr('font-size', 19).attr('dy', 9).text('2');
    t2.append('tspan').attr('dy', -9).text('=' + kappa2[j] + '\u00a0ns');
    t2.append('tspan').attr('font-size', 19).attr('dy', -13).text('-1');

    g.append('text').attr('x', (bx[0] + bx[1]) / 2).attr('y', 932)
      .attr('text-anchor', 'middle').attr('font-family', SANS).attr('font-size', 40)
      .attr('letter-spacing', 3).attr('fill', '#000').text(xTitle);
  }
  if (isLeft) {
    g.append('text').attr('x', 13).attr('y', isBottom ? 614 : 194)
      .attr('font-family', SANS).attr('font-size', 36).attr('fill', '#000').text(yTitle);
  }
});
</script>
</body></html>
